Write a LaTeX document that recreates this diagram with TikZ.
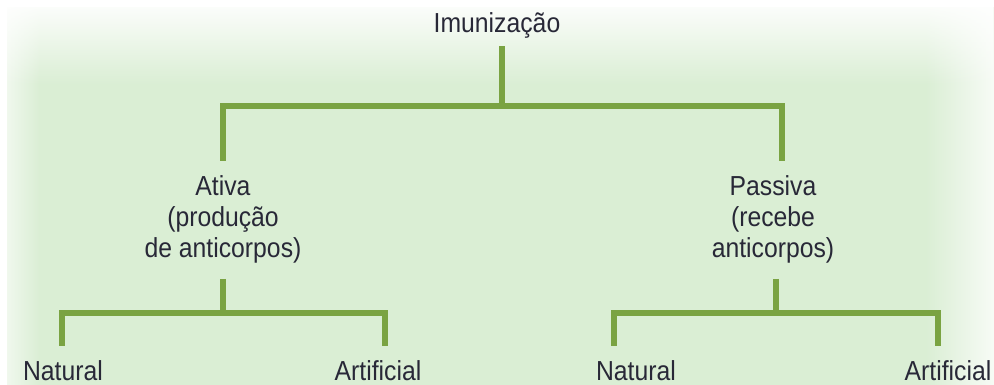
\documentclass[tikz,border=0pt]{standalone}
\usepackage{fontspec}
\setmainfont[FakeStretch=0.9]{Liberation Sans}
\usetikzlibrary{fadings}
\definecolor{fundo}{RGB}{218,238,212}
\definecolor{verde}{RGB}{122,163,66}
\definecolor{texto}{RGB}{40,40,55}
\tikzfading[name=esmaece topo,top color=transparent!10,bottom color=transparent!100]
\tikzfading[name=esmaece esq,left color=transparent!40,right color=transparent!100]
\tikzfading[name=esmaece dir,left color=transparent!100,right color=transparent!20]
\tikzset{
  ramo/.style={draw=verde,line width=6pt,line join=miter},
  rotulo/.style={inner sep=0pt,text=texto,align=center,
                 font=\fontsize{27.5}{31}\selectfont}
}
\begin{document}
\begin{tikzpicture}[x=1pt,y=-1pt]
	\useasboundingbox (0,0) rectangle (994,385);
	% fundo verde com bordas esmaecidas
	\fill [fundo] (7,7) rectangle (994,385);
	\fill [white,path fading=esmaece esq] (7,7) rectangle (40,385);
	\fill [white,path fading=esmaece dir] (925,7) rectangle (994,385);
	\fill [white,path fading=esmaece topo] (7,7) rectangle (994,85);

	% textos
	\node [rotulo,anchor=base] (imun) at (497,33) {Imunização};
	\node [rotulo,anchor=base] (ativa) at (223,257) {Ativa\\(produção\\de anticorpos)};
	\node [rotulo,anchor=base] (passiva) at (773,257) {Passiva\\(recebe\\anticorpos)};
	\node [rotulo,anchor=base] (natA) at (63,380) {Natural};
	\node [rotulo,anchor=base] (artA) at (378,380) {Artificial};
	\node [rotulo,anchor=base] (natP) at (636,380) {Natural};
	\node [rotulo,anchor=base] (artP) at (948,380) {Artificial};

	% pontos de junção
	\coordinate (jA) at (502,106);
	\coordinate (jB) at (223,313);
	\coordinate (jC) at (776,313);

	% ramos
	\draw [ramo] (imun.south -| jA) ++(0,7) -- (jA);
	\draw [ramo] ([yshift=14pt]ativa.north) |- (jA) -| ([xshift=9pt,yshift=14pt]passiva.north);
	\draw [ramo] (ativa.south) ++(0,16) -- (jB);
	\draw [ramo] (passiva.south -| jC) ++(0,16) -- (jC);
	\draw [ramo] (natA.north -| jB) ++(-161,-14) |- (jB) -| ([xshift=7pt,yshift=14pt]artA.north);
	\draw [ramo] ([xshift=-22pt,yshift=14pt]natP.north) |- (jC) -| ([xshift=-10pt,yshift=14pt]artP.north);
\end{tikzpicture}
\end{document}
